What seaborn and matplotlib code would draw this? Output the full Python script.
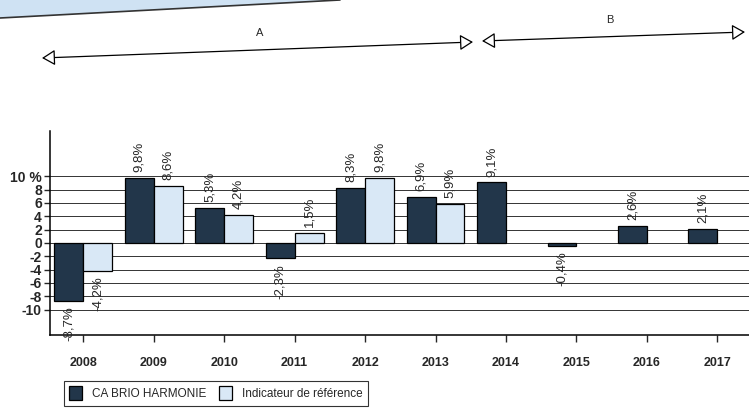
import matplotlib
matplotlib.use("Agg")
import matplotlib.pyplot as plt
from matplotlib.patches import FancyArrowPatch, Polygon
import pandas as pd
import seaborn as sns

# --- data ---
years = ["2008", "2009", "2010", "2011", "2012", "2013", "2014", "2015", "2016", "2017"]
fund = [-8.7, 9.8, 5.3, -2.3, 8.3, 6.9, 9.1, -0.4, 2.6, 2.1]
benchmark = [-4.2, 8.6, 4.2, 1.5, 9.8, 5.9, None, None, None, None]
series_names = ["CA BRIO HARMONIE", "Indicateur de référence"]
y_ticks = [-10, -8, -6, -4, -2, 0, 2, 4, 6, 8, 10]

DARK = "#22364a"
LIGHT = "#d9e8f6"

sns.set_theme(style="white")
plt.rcParams["font.family"] = ["Liberation Sans", "DejaVu Sans"]

df = pd.DataFrame({
    "year": years * 2,
    "value": fund + benchmark,
    "series": [series_names[0]] * len(years) + [series_names[1]] * len(years),
}).dropna()

fig = plt.figure(figsize=(7.49, 4.16), dpi=100)
ax = fig.add_axes([0.067, 0.195, 0.933, 0.49])

sns.barplot(data=df, x="year", y="value", hue="series", order=years,
            hue_order=series_names, palette=[DARK, LIGHT], width=0.82,
            edgecolor="black", linewidth=0.9, saturation=1, ax=ax, legend=True,
            zorder=3)

# value labels, French decimal comma
for cont in ax.containers:
    labels = [f"{v:.1f}%".replace(".", ",") for v in cont.datavalues]
    ax.bar_label(cont, labels=labels, rotation=90, padding=4, fontsize=9.5)

ax.set_xlim(-0.47, 9.45)
ax.set_ylim(-13.8, 16.8)
ax.set_yticks(y_ticks)
ax.set_yticklabels([f"{t} %" if t == 10 else str(t) for t in y_ticks],
                   fontsize=10, fontweight="bold")
for t in y_ticks:
    ax.axhline(t, color="#333333", linewidth=0.7, zorder=1)
ax.set_xlabel("")
ax.set_ylabel("")
ax.tick_params(axis="x", direction="out", length=5, width=1, pad=11,
               labelsize=9, bottom=True)
ax.tick_params(axis="y", direction="out", length=4, width=1, pad=2, left=True)
for lab in ax.get_xticklabels():
    lab.set_fontweight("bold")
for side in ["top", "right"]:
    ax.spines[side].set_visible(False)
for side in ["left", "bottom"]:
    ax.spines[side].set_color("black")
    ax.spines[side].set_linewidth(1.1)

# legend box under the chart
handles, labs = ax.get_legend_handles_labels()
ax.get_legend().remove()
leg = fig.legend(handles, labs, loc="upper left", bbox_to_anchor=(0.077, 0.098),
                 bbox_transform=fig.transFigure, ncol=2, frameon=True,
                 fancybox=False, edgecolor="black", fontsize=8.5,
                 handlelength=1.1, handleheight=1.4, columnspacing=1.0,
                 borderpad=0.45, handletextpad=0.9)
leg.get_frame().set_linewidth(0.8)

# periods A and B above the chart (figure pixel coords, y from top)
W, H = 749, 416
def fp(x, y):
    return (x / W, 1 - y / H)

for (x0, y0, x1, y1, name, lx, ly) in [(42, 58, 473, 42, "A", 260, 33),
                                       (482, 41, 745, 32, "B", 610, 20)]:
    arr = FancyArrowPatch(fp(x0, y0), fp(x1, y1), transform=fig.transFigure,
                          arrowstyle="<|-|>,head_length=5,head_width=3",
                          facecolor="white", edgecolor="black", linewidth=0.9,
                          mutation_scale=1.6, shrinkA=0, shrinkB=0)
    fig.patches.append(arr)
    fig.text(*fp(lx, ly), name, ha="center", va="center", fontsize=8)

# cut-off header band at the top of the scan
band = Polygon([fp(0, 0), fp(340, 0), fp(0, 18)], closed=True,
               transform=fig.transFigure, facecolor="#cfe2f3", edgecolor="none")
fig.patches.append(band)
fig.lines.append(plt.Line2D([0, 340 / W], [1 - 18 / H, 1.0],
                            transform=fig.transFigure, color="#333333", linewidth=1.2))

fig.savefig("out.png", dpi=100)
